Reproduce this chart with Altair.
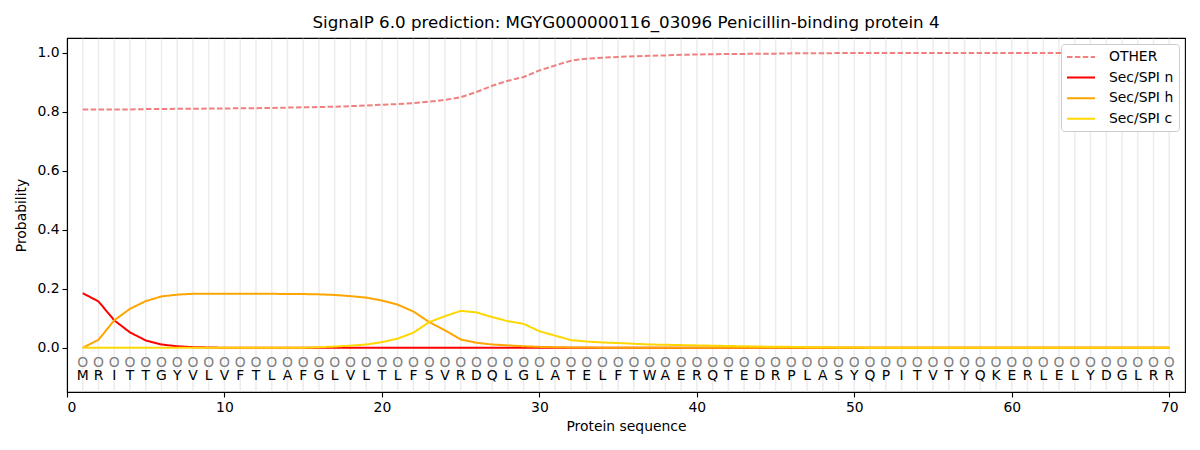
import altair as alt
import pandas as pd

positions = list(range(1, 71))
sequence = list("MRITTGYVLVFTLAFGLVLTLFSVRDQLGLATELFTWAERQTEDRPLASYQPITVTYQKERLELYDGLRR")

other = [0.808, 0.808, 0.808, 0.808, 0.809, 0.809, 0.810, 0.810, 0.811, 0.811,
         0.812, 0.812, 0.813, 0.814, 0.815, 0.816, 0.817, 0.819, 0.821, 0.824,
         0.826, 0.829, 0.834, 0.840, 0.849, 0.867, 0.888, 0.905, 0.918, 0.940,
         0.957, 0.973, 0.980, 0.983, 0.986, 0.988, 0.990, 0.991, 0.993, 0.994,
         0.995, 0.996, 0.996, 0.997, 0.997, 0.998, 0.998, 0.998, 0.999, 0.999,
         0.999, 0.999, 0.999, 0.999, 0.999, 0.999, 0.999, 0.999, 0.999, 0.999,
         0.999, 0.999, 0.999, 0.999, 0.999, 0.999, 0.999, 0.999, 0.999, 0.999]
sec_n = [0.185, 0.157, 0.093, 0.052, 0.025, 0.011, 0.005, 0.002, 0.001, 0.0] + [0.0] * 60
sec_h = [0.0, 0.027, 0.093, 0.132, 0.158, 0.174, 0.180, 0.183, 0.183, 0.183,
         0.183, 0.183, 0.183, 0.182, 0.182, 0.181, 0.179, 0.175, 0.170, 0.160,
         0.146, 0.123, 0.087, 0.059, 0.028, 0.017, 0.011, 0.008, 0.005, 0.003,
         0.002, 0.001, 0.001] + [0.0] * 37
sec_c = [0.0] * 15 + [0.002, 0.004, 0.007, 0.011, 0.019,
         0.031, 0.051, 0.087, 0.107, 0.125, 0.120, 0.104, 0.090, 0.081, 0.056,
         0.041, 0.026, 0.021, 0.018, 0.016, 0.0135, 0.011, 0.010, 0.009, 0.008,
         0.007, 0.006, 0.005, 0.004, 0.003, 0.003, 0.002, 0.002, 0.001, 0.001] + [0.0] * 20

labels = ["OTHER", "Sec/SPI n", "Sec/SPI h", "Sec/SPI c"]
colors = ["#F08080", "#FF0000", "#FFA500", "#FFD700"]
dashes = [[5.5, 2.4], [1, 0], [1, 0], [1, 0]]

rows = []
for lab, vals in zip(labels, [other, sec_n, sec_h, sec_c]):
    for p, v in zip(positions, vals):
        rows.append({"pos": p, "prob": v, "series": lab, "order": labels.index(lab)})
df = pd.DataFrame(rows)
seq_df = pd.DataFrame({"pos": positions, "aa": sequence})

FONT = "DejaVu Sans"
xscale = alt.Scale(domain=[0, 71], nice=False, zero=False)
yscale = alt.Scale(domain=[-0.15, 1.05], nice=False, zero=False)

grid = alt.Chart(seq_df).mark_rule(color="#ececec", strokeWidth=1.5).encode(
    x=alt.X("pos:Q", scale=xscale,
            axis=alt.Axis(values=[0, 10, 20, 30, 40, 50, 60, 70], title="Protein sequence",
                          grid=False, format="d")),
    y=alt.datum(-0.1475, scale=yscale),
    y2=alt.datum(1.0475),
)

lines = alt.Chart(df).mark_line(strokeWidth=2).encode(
    x=alt.X("pos:Q", scale=xscale),
    y=alt.Y("prob:Q", scale=yscale,
            axis=alt.Axis(values=[0, 0.2, 0.4, 0.6, 0.8, 1.0], format=".1f",
                          title="Probability", grid=False)),
    color=alt.Color("series:N", scale=alt.Scale(domain=labels, range=colors),
                    sort=labels,
                    legend=alt.Legend(title=None, orient="top-right", offset=6,
                                      fillColor="white", strokeColor="#cccccc",
                                      cornerRadius=3, padding=5,
                                      labelFontSize=13.9, labelFont=FONT,
                                      symbolType="M-2,0H2", symbolStrokeWidth=2,
                                      symbolSize=196, rowPadding=5.6, symbolOffset=7,
                                      labelOffset=20)),
    strokeDash=alt.StrokeDash("series:N", scale=alt.Scale(domain=labels, range=dashes),
                              sort=labels, legend=None),
    order=alt.Order("order:Q"),
    detail="series:N",
)

circles = alt.Chart(seq_df).mark_text(text="O", font=FONT, fontSize=13.9, color="#808080",
                                      baseline="middle").encode(
    x=alt.X("pos:Q", scale=xscale),
    y=alt.datum(-0.05),
)
letters = alt.Chart(seq_df).mark_text(font=FONT, fontSize=13.9, color="black",
                                      baseline="middle").encode(
    x=alt.X("pos:Q", scale=xscale),
    y=alt.datum(-0.096),
    text="aa:N",
)

chart = alt.layer(grid, lines, circles, letters).properties(
    width=1118, height=354,
    title=alt.TitleParams("SignalP 6.0 prediction: MGYG000000116_03096 Penicillin-binding protein 4",
                          font=FONT, fontSize=16.7, fontWeight="normal", color="black",
                          offset=6),
    autosize=alt.AutoSizeParams(type="none"),
    padding={"left": 59, "top": 30, "right": 7, "bottom": 50},
).configure_view(stroke="black", strokeWidth=1.1).configure_axis(
    labelFont=FONT, titleFont=FONT, labelFontSize=13.9, titleFontSize=13.9,
    titleFontWeight="normal", labelColor="black", titleColor="black",
    domainColor="black", tickColor="black", tickSize=5, tickWidth=1.1, domainWidth=1.1,
    labelPadding=3,
).configure_axisX(titlePadding=6).configure_axisY(titlePadding=8)

chart.save("out.html", embed_options={"renderer": "svg", "actions": False})
